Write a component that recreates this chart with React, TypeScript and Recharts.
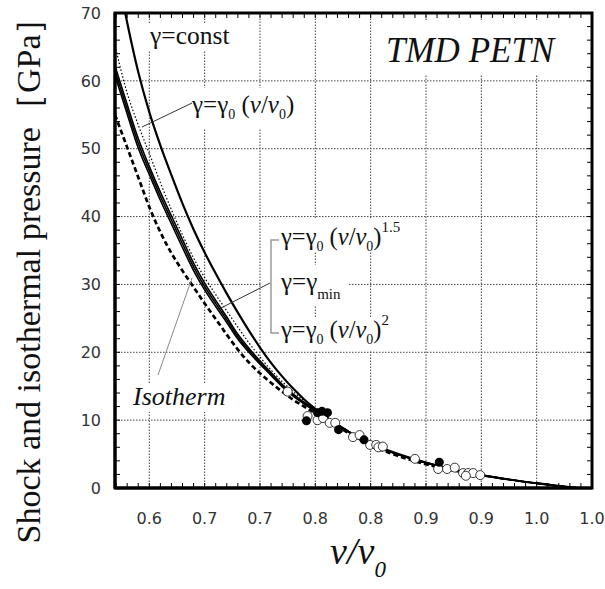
import React from 'react';
import { ComposedChart, Line, Scatter, XAxis, YAxis, ReferenceLine } from 'recharts';

// x axis: v/v0, labels as printed on the original (rounded to one decimal)
const xMajorTicks = [0.6, 0.65, 0.7, 0.75, 0.8, 0.85, 0.9, 0.95, 1.0];
const xTickLabels = ['0.6', '0.7', '0.7', '0.8', '0.8', '0.9', '0.9', '1.0', '1.0'];
const yMajorTicks = [0, 10, 20, 30, 40, 50, 60, 70];
const yTickLabels = ['0', '10', '20', '30', '40', '50', '60', '70'];
const xMinorTicks = Array.from({ length: 43 }, (_, i) => (57 + i) / 100);
const yMinorTicks = Array.from({ length: 34 }, (_, i) => (i + 1) * 2);

// gamma = const
const constX = [0.577, 0.58, 0.59, 0.6, 0.61, 0.62, 0.63, 0.64, 0.65, 0.66, 0.67, 0.68, 0.69, 0.7, 0.71, 0.72, 0.73, 0.74, 0.75, 0.76, 0.77, 0.78, 0.79, 0.8, 0.82, 0.85, 0.875, 0.9, 0.925, 0.95, 0.97, 0.985];
const constY = [71.0, 68.6, 61.3, 55.4, 50.5, 46.1, 41.9, 38.1, 34.7, 31.6, 28.65, 25.85, 23.2, 20.7, 18.45, 16.45, 14.65, 13.05, 11.65, 10.4, 9.3, 8.3, 7.4, 6.6, 5.3, 3.75, 2.7, 1.9, 1.25, 0.7, 0.3, 0.05];

// gamma = gamma0 (v/v0)
const linearX = [0.569, 0.58, 0.59, 0.6, 0.61, 0.62, 0.63, 0.64, 0.65, 0.66, 0.67, 0.68, 0.69, 0.7, 0.71, 0.72, 0.73, 0.74, 0.75, 0.76, 0.77, 0.78, 0.8];
const linearY = [65.2, 58.2, 53.5, 49.3, 45.0, 41.0, 37.3, 33.9, 31.0, 28.5, 26.1, 23.7, 21.4, 19.3, 17.4, 15.7, 14.2, 12.85, 11.6, 10.5, 9.4, 8.35, 6.45];

// bundle: (v/v0)^1.5, gamma_min, (v/v0)^2
const bundleX = [0.569, 0.58, 0.59, 0.6, 0.61, 0.62, 0.63, 0.64, 0.65, 0.66, 0.67, 0.68, 0.69, 0.7, 0.71, 0.72, 0.73, 0.74, 0.75, 0.76, 0.77, 0.78, 0.79, 0.8, 0.82, 0.85, 0.875, 0.9, 0.925, 0.95, 0.97, 0.985];
const pow15Y = [62.2, 56.5, 51.5, 47.4, 43.6, 40.1, 36.6, 33.15, 30.2, 27.65, 25.2, 22.65, 20.6, 18.75, 17.0, 15.28, 13.85, 12.62, 11.5, 10.38, 9.36, 8.35, 7.38, 6.42, 5.2, 3.7, 2.7, 1.9, 1.25, 0.7, 0.3, 0.05];
const minY = [61.5, 55.8, 50.8, 46.8, 43.0, 39.5, 36.0, 32.6, 29.7, 27.2, 24.8, 22.3, 20.3, 18.5, 16.8, 15.1, 13.7, 12.5, 11.4, 10.3, 9.3, 8.3, 7.35, 6.4, 5.2, 3.7, 2.7, 1.9, 1.25, 0.7, 0.3, 0.05];
const pow2Y = [60.8, 55.1, 50.1, 46.2, 42.4, 38.9, 35.4, 32.05, 29.2, 26.75, 24.4, 21.95, 20.0, 18.25, 16.6, 14.92, 13.55, 12.38, 11.3, 10.22, 9.24, 8.25, 7.32, 6.38, 5.2, 3.7, 2.7, 1.9, 1.25, 0.7, 0.3, 0.05];

// isotherm
const isoX = [0.569, 0.58, 0.59, 0.6, 0.61, 0.62, 0.63, 0.64, 0.65, 0.66, 0.67, 0.68, 0.69, 0.7, 0.71, 0.72, 0.73, 0.74, 0.75, 0.76, 0.77, 0.78, 0.79, 0.8, 0.82, 0.85, 0.875, 0.9];
const isoY = [55.0, 50.2, 45.8, 41.4, 37.7, 34.6, 32.0, 29.6, 27.2, 24.9, 22.6, 20.4, 18.5, 16.9, 15.5, 14.2, 13.0, 12.0, 11.0, 10.0, 9.1, 8.1, 7.2, 6.3, 5.0, 3.5, 2.6, 1.8];

// experimental points
const filledX = [0.742, 0.752, 0.756, 0.761, 0.771, 0.794, 0.862];
const filledY = [9.9, 11.1, 11.3, 11.1, 8.6, 7.1, 3.8];
const openX = [0.725, 0.743, 0.752, 0.757, 0.763, 0.768, 0.784, 0.79, 0.7995, 0.805, 0.807, 0.811, 0.84, 0.861, 0.869, 0.876, 0.8835, 0.888, 0.8926, 0.899, 0.886];
const openY = [14.2, 10.6, 10.0, 10.3, 9.6, 9.6, 7.5, 7.8, 6.35, 6.35, 6.0, 6.1, 4.3, 2.8, 2.8, 3.0, 2.2, 2.2, 2.2, 1.9, 1.8];

const pts = (xs: number[], ys: number[]) => xs.map((x, i) => ({ x, y: ys[i] }));

const xDomain: [number, number] = [0.569, 1.0];
const yDomain: [number, number] = [0, 70];

// plot box, from the chart margins and axis sizes below
const W = 605;
const H = 589;
const margin = { top: 13, right: 13, bottom: 61, left: 0 };
const xAxisH = 40;
const yAxisW = 115;
const box = {
  left: margin.left + yAxisW,
  right: W - margin.right,
  top: margin.top,
  bottom: H - margin.bottom - xAxisH,
};
const px = (v: number) => box.left + ((v - xDomain[0]) / (xDomain[1] - xDomain[0])) * (box.right - box.left);
const py = (v: number) => box.bottom - ((v - yDomain[0]) / (yDomain[1] - yDomain[0])) * (box.bottom - box.top);

const serif = 'Liberation Serif';
const sans = 'DejaVu Sans';

const xLabel = (v: number) => {
  const i = xMajorTicks.findIndex((m) => Math.abs(m - v) < 1e-6);
  return i >= 0 ? xTickLabels[i] : '';
};
const yLabel = (v: number) => {
  const i = yMajorTicks.indexOf(v);
  return i >= 0 ? yTickLabels[i] : '';
};

const OpenDot = (p: any) => <circle cx={p.cx} cy={p.cy} r={4.5} fill="#fff" stroke="#222" strokeWidth={0.9} />;
const FilledDot = (p: any) => <circle cx={p.cx} cy={p.cy} r={4.5} fill="#000" />;

function Annotations() {
  const sub = 14;
  const t = 5;
  return (
    <svg width={W} height={H} style={{ position: 'absolute', left: 0, top: 0, pointerEvents: 'none' }}>
      <g fill="#fff">
        <rect x={148} y={24} width={86} height={27} />
        <rect x={380} y={20} width={190} height={55} />
        <rect x={190} y={88} width={116} height={40} />
        <rect x={278} y={218} width={136} height={34} />
        <rect x={262} y={265} width={86} height={40} />
        <rect x={278} y={318} width={130} height={32} />
        <rect x={130} y={383} width={100} height={29} />
      </g>
      {/* inward minor ticks and frame */}
      <g stroke="#000" strokeWidth={1}>
        {xMinorTicks.map((v) => (
          <React.Fragment key={'tx' + v}>
            <line x1={px(v)} x2={px(v)} y1={box.bottom} y2={box.bottom - t} />
            <line x1={px(v)} x2={px(v)} y1={box.top} y2={box.top + t} />
          </React.Fragment>
        ))}
        {yMinorTicks.map((v) => (
          <React.Fragment key={'ty' + v}>
            <line x1={box.left} x2={box.left + t} y1={py(v)} y2={py(v)} />
            <line x1={box.right} x2={box.right - t} y1={py(v)} y2={py(v)} />
          </React.Fragment>
        ))}
      </g>
      <rect x={box.left} y={box.top} width={box.right - box.left} height={box.bottom - box.top}
        fill="none" stroke="#000" strokeWidth={3} />
      <g fontFamily={serif} fill="#111">
        <text x={150} y={44} fontSize={25.5}>γ=const</text>
        <text x={386} y={62} fontSize={35} fontStyle="italic">TMD PETN</text>
        <text x={192} y={113} fontSize={25}>
          γ=γ<tspan fontSize={sub} dy={6}>0</tspan>
          <tspan dy={-6}> (</tspan><tspan fontStyle="italic">v</tspan>/<tspan fontStyle="italic">v</tspan>
          <tspan fontSize={sub} dy={6}>0</tspan><tspan dy={-6}>)</tspan>
        </text>
        <text x={281} y={245} fontSize={24.5}>
          γ=γ<tspan fontSize={sub} dy={6}>0</tspan>
          <tspan dy={-6}> (</tspan><tspan fontStyle="italic">v</tspan>/<tspan fontStyle="italic">v</tspan>
          <tspan fontSize={sub} dy={6}>0</tspan><tspan dy={-6}>)</tspan>
          <tspan fontSize={15} dy={-13}>1.5</tspan>
        </text>
        <text x={281} y={290} fontSize={25}>
          γ=γ<tspan fontSize={15} dy={9}>min</tspan>
        </text>
        <text x={281} y={338} fontSize={24.5}>
          γ=γ<tspan fontSize={sub} dy={6}>0</tspan>
          <tspan dy={-6}> (</tspan><tspan fontStyle="italic">v</tspan>/<tspan fontStyle="italic">v</tspan>
          <tspan fontSize={sub} dy={6}>0</tspan><tspan dy={-6}>)</tspan>
          <tspan fontSize={15} dy={-13}>2</tspan>
        </text>
        <text x={133} y={405} fontSize={26} fontStyle="italic">Isotherm</text>
        <text x={40} y={272} fontSize={34} textAnchor="middle" transform="rotate(-90 40 272)">
          Shock and isothermal pressure［GPa］
        </text>
        <text x={358} y={564} fontSize={38} textAnchor="middle" fontStyle="italic">
          v/v<tspan fontSize={23} dy={13}>0</tspan>
        </text>
      </g>
      <line x1={192} y1={103} x2={142} y2={127} stroke="#333" strokeWidth={1} />
      <path d="M279 240 H271 V333 H279" fill="none" stroke="#999" strokeWidth={1.5} />
      <line x1={270} y1={283} x2={221} y2={308} stroke="#333" strokeWidth={1} />
      <line x1={158} y1={375} x2={192} y2={278} stroke="#888" strokeWidth={1} />
    </svg>
  );
}

export default function App() {
  const tickStyle = { fontFamily: sans, fontSize: 16, fill: '#333' };
  return (
    <div style={{ position: 'absolute', left: 0, top: 0, width: W, height: H, background: '#fff' }}>
      <ComposedChart width={W} height={H} margin={margin}>
        <XAxis
          dataKey="x"
          type="number"
          domain={xDomain}
          allowDataOverflow
          ticks={xMajorTicks}
          interval={0}
          tickFormatter={xLabel}
          tickLine={false}
          tickMargin={19}
          axisLine={{ stroke: '#000', strokeWidth: 3 }}
          tick={tickStyle}
          height={xAxisH}
        />
        <YAxis
          dataKey="y"
          type="number"
          domain={yDomain}
          allowDataOverflow
          ticks={yMajorTicks}
          interval={0}
          tickFormatter={yLabel}
          tickLine={false}
          tickMargin={8}
          axisLine={{ stroke: '#000', strokeWidth: 3 }}
          tick={tickStyle}
          width={yAxisW}
        />
        {xMajorTicks.slice(0, -1).map((v) => (
          <ReferenceLine key={'gx' + v} x={v} stroke="#444" strokeDasharray="1.5 1.5" strokeWidth={1} />
        ))}
        {yMajorTicks.slice(1, -1).map((v) => (
          <ReferenceLine key={'gy' + v} y={v} stroke="#444" strokeDasharray="1.5 1.5" strokeWidth={1} />
        ))}
        <Line data={pts(isoX, isoY)} dataKey="y" type="monotone" stroke="#000" strokeWidth={2.7} strokeDasharray="5 3" dot={false} isAnimationActive={false} />
        <Line data={pts(linearX, linearY)} dataKey="y" type="monotone" stroke="#000" strokeWidth={1.2} strokeDasharray="1.5 2" dot={false} isAnimationActive={false} />
        <Line data={pts(bundleX, pow2Y)} dataKey="y" type="monotone" stroke="#000" strokeWidth={1.6} dot={false} isAnimationActive={false} />
        <Line data={pts(bundleX, minY)} dataKey="y" type="monotone" stroke="#000" strokeWidth={1.6} dot={false} isAnimationActive={false} />
        <Line data={pts(bundleX, pow15Y)} dataKey="y" type="monotone" stroke="#000" strokeWidth={1.6} dot={false} isAnimationActive={false} />
        <Line data={pts(constX, constY)} dataKey="y" type="monotone" stroke="#000" strokeWidth={2.2} dot={false} isAnimationActive={false} />
        <Scatter data={pts(openX, openY)} dataKey="y" shape={OpenDot} isAnimationActive={false} />
        <Scatter data={pts(filledX, filledY)} dataKey="y" shape={FilledDot} isAnimationActive={false} />
      </ComposedChart>
      <Annotations />
    </div>
  );
}
